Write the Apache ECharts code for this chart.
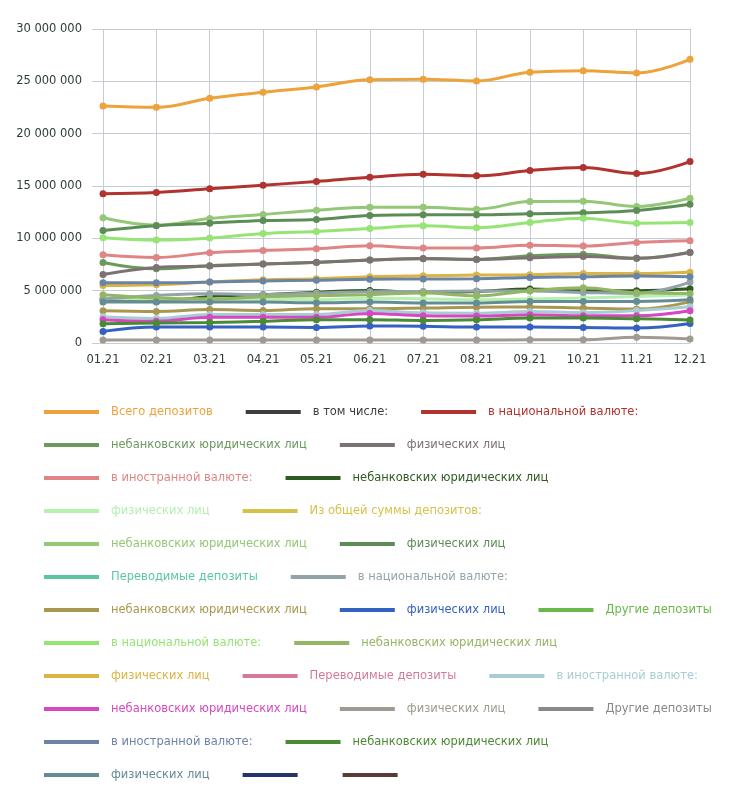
<!DOCTYPE html>
<html>
<head>
<meta charset="utf-8">
<script src="https://cdn.jsdelivr.net/npm/echarts@6/dist/echarts.min.js"></script>
<style>
html,body{margin:0;padding:0;background:#fff;}
#chart{width:733px;height:800px;}
</style>
</head>
<body>
<div id="chart"></div>
<script>
var months = ['01.21','02.21','03.21','04.21','05.21','06.21','07.21','08.21','09.21','10.21','11.21','12.21'];
var yTicks = [0, 5000000, 10000000, 15000000, 20000000, 25000000, 30000000];

var seriesNames = [
  'Всего депозитов','в том числе:','в национальной валюте:',
  'небанковских юридических лиц','физических лиц',
  'в иностранной валюте:','небанковских юридических лиц',
  'физических лиц','Из общей суммы депозитов:',
  'небанковских юридических лиц','физических лиц',
  'Переводимые депозиты','в национальной валюте:',
  'небанковских юридических лиц','физических лиц','Другие депозиты',
  'в национальной валюте:','небанковских юридических лиц',
  'физических лиц','Переводимые депозиты','в иностранной валюте:',
  'небанковских юридических лиц','физических лиц','Другие депозиты',
  'в иностранной валюте:','небанковских юридических лиц',
  'физических лиц','',''
];

var seriesColors = [
  '#eda23c','#3d3d3d','#b0332f',
  '#6a9a5c','#7d7272',
  '#e08585','#2f5a22',
  '#b5f0b0','#d4c24a',
  '#94c776','#5d8d57',
  '#5cc6a4','#92a4aa',
  '#a8984f','#3562c0','#6ab84a',
  '#96e474','#94b664',
  '#dcb444','#d47a98','#a8ccd4',
  '#d648c0','#a09a90','#888888',
  '#6a84a4','#4a8a34',
  '#648c94','#24346e','#5a3a34'
];

var totalDeposits   = [22650000,22520000,23380000,23950000,24460000,25150000,25200000,25040000,25870000,26020000,25800000,27100000];
var inclusive       = [];
var nationalTotal   = [14250000,14370000,14730000,15080000,15430000,15840000,16130000,15970000,16470000,16760000,16190000,17330000];
var nationalLegal   = [7690000,7090000,7380000,7540000,7690000,7920000,8060000,7990000,8330000,8490000,8100000,8680000];
var nationalIndiv   = [6550000,7220000,7350000,7540000,7720000,7920000,8070000,7980000,8140000,8270000,8090000,8650000];
var foreignTotal    = [8430000,8170000,8620000,8840000,9000000,9290000,9070000,9070000,9350000,9260000,9610000,9770000];
var foreignLegal    = [4200000,3970000,4450000,4620000,4860000,5020000,4840000,4930000,5150000,4990000,4990000,5180000];
var foreignIndiv    = [4230000,4200000,4170000,4200000,4140000,4270000,4230000,4140000,4200000,4300000,4450000,4590000];
var ofTotal         = [];
var allLegal        = [11960000,11260000,11900000,12280000,12690000,12980000,12980000,12790000,13520000,13550000,13040000,13840000];
var allIndiv        = [10750000,11200000,11450000,11700000,11800000,12180000,12250000,12250000,12340000,12440000,12660000,13260000];
var transferHead1   = [];
var transNat        = [4200000,4540000,4710000,4620000,4770000,4900000,4930000,4970000,4960000,4830000,4740000,5820000];
var transNatLegal   = [3090000,3020000,3190000,3100000,3280000,3280000,3340000,3420000,3430000,3340000,3250000,3930000];
var transNatIndiv   = [1110000,1520000,1520000,1520000,1490000,1620000,1590000,1520000,1520000,1490000,1430000,1870000];
var otherHead1      = [];
var otherNat        = [10050000,9830000,10020000,10460000,10660000,10940000,11200000,11000000,11510000,11930000,11450000,11510000];
var otherNatLegal   = [4600000,4300000,4200000,4420000,4520000,4610000,4780000,4510000,4990000,5280000,4800000,4740000];
var otherNatIndiv   = [5500000,5570000,5820000,6040000,6140000,6330000,6420000,6490000,6520000,6650000,6650000,6770000];
var transferHead2   = [];
var transFor        = [2500000,2350000,2730000,2730000,2730000,3110000,2880000,2850000,3000000,2900000,3100000,3460000];
var transForLegal   = [2220000,2070000,2450000,2450000,2450000,2830000,2600000,2570000,2700000,2600000,2600000,3080000];
var transForIndiv   = [280000,280000,280000,280000,280000,280000,280000,280000,310000,310000,540000,380000];
var otherHead2      = [];
var otherFor        = [5750000,5750000,5820000,5920000,6000000,6100000,6120000,6140000,6260000,6330000,6390000,6330000];
var otherForLegal   = [1840000,1900000,1970000,2070000,2220000,2220000,2160000,2220000,2380000,2380000,2320000,2190000];
var otherForIndiv   = [3910000,3910000,3910000,3910000,3850000,3910000,3820000,3820000,3970000,3970000,3970000,4130000];
var extraA          = [];
var extraB          = [];

var seriesData = [
  totalDeposits, inclusive, nationalTotal,
  nationalLegal, nationalIndiv,
  foreignTotal, foreignLegal,
  foreignIndiv, ofTotal,
  allLegal, allIndiv,
  transferHead1, transNat,
  transNatLegal, transNatIndiv, otherHead1,
  otherNat, otherNatLegal,
  otherNatIndiv, transferHead2, transFor,
  transForLegal, transForIndiv, otherHead2,
  otherFor, otherForLegal,
  otherForIndiv, extraA, extraB
];

// make legend names unique with invisible zero-width spaces
var uniqueNames = seriesNames.map(function (n, i) {
  return n + new Array(i + 2).join('\u200B');
});

var series = seriesData.map(function (d, i) {
  return {
    name: uniqueNames[i],
    type: 'line',
    data: d,
    smooth: 0.4,
    symbol: 'circle',
    symbolSize: 7,
    showSymbol: true,
    color: seriesColors[i],
    lineStyle: { width: 3, color: seriesColors[i] },
    itemStyle: { color: seriesColors[i] },
    emphasis: { disabled: true },
    animation: false
  };
});

var legendData = uniqueNames.map(function (n, i) {
  return { name: n, textStyle: { color: seriesColors[i] } };
});

function fmt(v) {
  return String(v).replace(/\B(?=(\d{3})+(?!\d))/g, ' ');
}

var chart = echarts.init(document.getElementById('chart'), null, { renderer: 'canvas' });
chart.setOption({
  animation: false,
  backgroundColor: '#ffffff',
  grid: { left: 103, right: 43, top: 29, bottom: 457, containLabel: false },
  xAxis: {
    type: 'category',
    data: months,
    boundaryGap: false,
    axisLine: { show: true, lineStyle: { color: '#c5ccd3', width: 1 } },
    axisTick: { show: false },
    splitLine: { show: true, lineStyle: { color: '#c5ccd3', width: 1 } },
    axisLabel: { color: '#2e3d33', fontFamily: 'DejaVu Sans', fontSize: 11.5, margin: 11 }
  },
  yAxis: {
    type: 'value',
    min: yTicks[0],
    max: yTicks[yTicks.length - 1],
    interval: yTicks[1] - yTicks[0],
    axisLine: { show: false },
    axisTick: { show: true, length: 11, lineStyle: { color: '#c5ccd3' } },
    splitLine: { show: true, lineStyle: { color: '#c5ccd3', width: 1 } },
    axisLabel: { color: '#2e3d33', fontFamily: 'DejaVu Sans', fontSize: 11.5, margin: 21, formatter: fmt }
  },
  legend: {
    data: legendData,
    left: 39,
    right: 0,
    top: 400,
    orient: 'horizontal',
    icon: 'rect',
    itemWidth: 55,
    itemHeight: 4,
    itemGap: 19,
    selectedMode: false,
    textStyle: {
      fontFamily: 'DejaVu Sans',
      fontSize: 11.5,
      lineHeight: 14,
      padding: [0, 14, 0, 7]
    }
  },
  tooltip: { show: false },
  series: series
});
</script>
</body>
</html>
